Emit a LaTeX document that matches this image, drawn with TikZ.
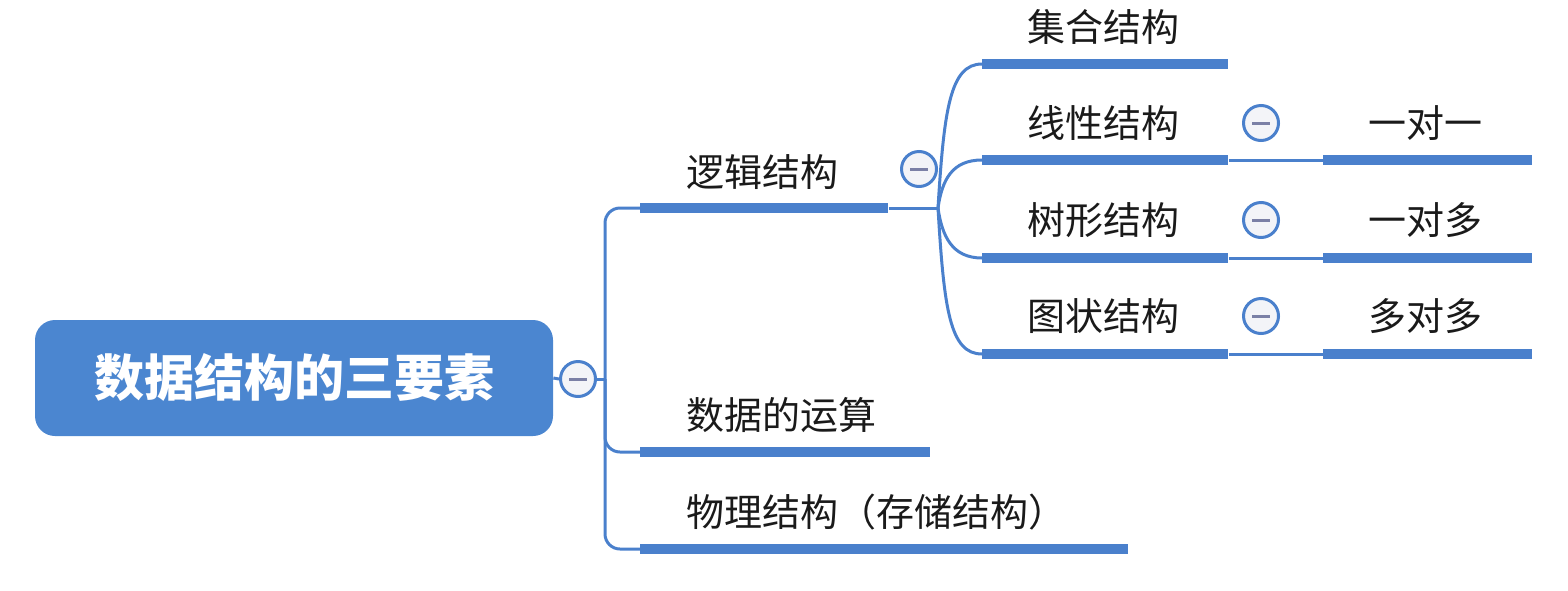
\documentclass[tikz,border=0pt]{standalone}
\usepackage{fontspec}
\setmainfont{Noto Sans CJK SC}
\definecolor{mblue}{HTML}{4A80CC}
\definecolor{rootblue}{HTML}{4B86D0}
\definecolor{minusc}{HTML}{7B80A6}
\definecolor{cfill}{HTML}{F3F4F8}
\definecolor{txt}{HTML}{1A1A1A}
\begin{document}
\begin{tikzpicture}[x=0.5pt,y=-0.5pt,
  bar/.style={fill=mblue,inner sep=0pt,minimum height=5pt,anchor=west},
  conn/.style={draw=mblue,line width=1.5pt},
  lbl/.style={anchor=west,inner sep=0pt,text=txt,font=\fontsize{19pt}{22pt}\selectfont},
  fold/.style={circle,draw=mblue,line width=1.5pt,fill=cfill,minimum size=17.5pt,inner sep=0pt,
    path picture={\draw[minusc,line width=1.5pt] ([xshift=-4.5pt]path picture bounding box.center) -- ([xshift=4.5pt]path picture bounding box.center);}}
]
\useasboundingbox (0,0) rectangle (1568,590);
% root
\node[fill=rootblue,rounded corners=10pt,minimum width=259pt,minimum height=58pt,inner sep=0pt,
  text=white,font=\fontsize{25pt}{30pt}\selectfont\bfseries] (root) at (294,378) {数据结构的三要素};
\node[fold] (f0) at (578,379) {};
\coordinate (tk) at (605,379);
% first level bars
\node[bar,minimum width=124pt] (blog) at (640,208) {};
\node[bar,minimum width=145pt] (bop) at (640,452) {};
\node[bar,minimum width=244pt] (bphy) at (640,549) {};
\node[lbl] (tlog) at (686,172) {逻辑结构};
\node[lbl] (top) at (686,415) {数据的运算};
\node[lbl] (tphy) at (686,512) {物理结构（存储结构）};
\draw[conn] (root.east) -- (f0.west);
\draw[conn] (f0.east) -- (tk);
\draw[conn,rounded corners=7.5pt] (blog.west) -| (tk);
\draw[conn,rounded corners=7.5pt] (bop.west) -| (tk);
\draw[conn,rounded corners=7.5pt] (bphy.west) -| (tk);
% second level
\coordinate (hub) at (938,208);
\node[fold] (f1) at (919,169) {};
\node[bar,minimum width=123pt] (bset) at (982,64) {};
\node[bar,minimum width=123pt] (blin) at (982,160) {};
\node[bar,minimum width=123pt] (btree) at (982,258) {};
\node[bar,minimum width=123pt] (bgra) at (982,354) {};
\node[lbl] (tset) at (1027,27) {集合结构};
\node[lbl] (tlin) at (1027,123) {线性结构};
\node[lbl] (ttree) at (1027,220) {树形结构};
\node[lbl] (tgra) at (1027,316) {图状结构};
\draw[conn] (blog.east) -- (hub);
\draw[conn] (hub) .. controls (944,110) and (950,64) .. (bset.west);
\draw[conn] (hub) .. controls (942,180) and (952,160) .. (blin.west);
\draw[conn] (hub) .. controls (942,236) and (952,258) .. (btree.west);
\draw[conn] (hub) .. controls (944,310) and (950,354) .. (bgra.west);
% third level
\node[fold] (f2) at (1261,123) {};
\node[fold] (f3) at (1261,220) {};
\node[fold] (f4) at (1261,316) {};
\node[bar,minimum width=104.5pt] (b11) at (1323,160) {};
\node[bar,minimum width=104.5pt] (b1n) at (1323,258) {};
\node[bar,minimum width=104.5pt] (bnn) at (1323,354) {};
\node[lbl] (t11) at (1368,123) {一对一};
\node[lbl] (t1n) at (1368,220) {一对多};
\node[lbl] (tnn) at (1368,316) {多对多};
\draw[conn] (blin.east) -- (b11.west);
\draw[conn] (btree.east) -- (b1n.west);
\draw[conn] (bgra.east) -- (bnn.west);
\end{tikzpicture}
\end{document}
